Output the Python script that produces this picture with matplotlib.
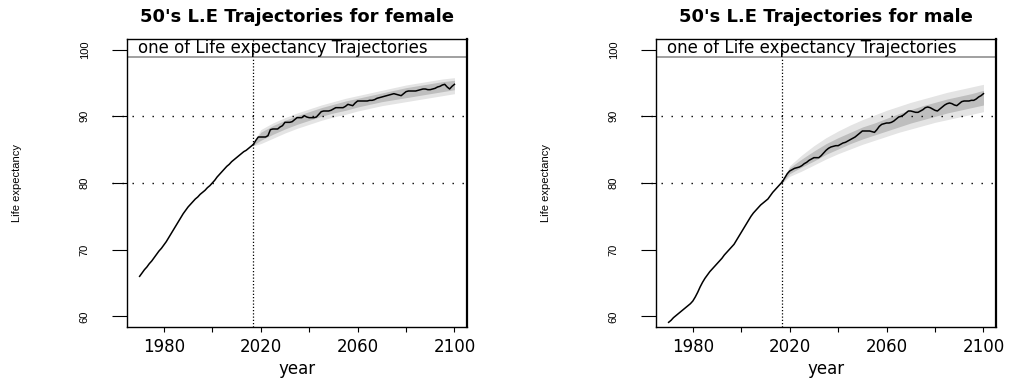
import matplotlib
matplotlib.use("Agg")
import matplotlib.pyplot as plt
import numpy as np

# observed life expectancy, 1970-2017
hist_years = list(range(1970, 2018))
female_hist = [66.0, 66.5, 67.0, 67.4, 67.9, 68.3, 68.8, 69.3, 69.8, 70.2,
               70.7, 71.2, 71.8, 72.4, 73.0, 73.6, 74.2, 74.8, 75.4, 75.9,
               76.4, 76.8, 77.2, 77.6, 77.9, 78.3, 78.6, 78.9, 79.3, 79.6,
               80.0, 80.4, 80.9, 81.3, 81.7, 82.1, 82.5, 82.8, 83.2, 83.5,
               83.8, 84.1, 84.4, 84.7, 84.9, 85.2, 85.5, 85.8]
male_hist = [59.1, 59.4, 59.8, 60.1, 60.4, 60.7, 61.0, 61.3, 61.6, 61.9,
             62.3, 62.9, 63.6, 64.4, 65.1, 65.7, 66.2, 66.7, 67.1, 67.5,
             67.9, 68.3, 68.7, 69.2, 69.6, 70.0, 70.4, 70.8, 71.4, 72.0,
             72.6, 73.2, 73.8, 74.4, 75.0, 75.5, 75.9, 76.3, 76.7, 77.0,
             77.3, 77.6, 78.1, 78.6, 79.0, 79.4, 79.8, 80.2]

# one simulated trajectory, 2017-2100
proj_years = list(range(2017, 2101))
female_proj = [85.8, 86.4, 86.9, 86.9, 86.9, 86.9, 87.1, 88.0, 88.1, 88.1,
               88.1, 88.4, 88.6, 89.1, 89.1, 89.1, 89.2, 89.5, 89.8, 89.8,
               89.8, 90.1, 89.9, 89.8, 89.8, 89.8, 89.9, 90.3, 90.7, 90.8,
               90.8, 90.8, 90.9, 91.1, 91.3, 91.3, 91.3, 91.3, 91.5, 91.8,
               91.7, 91.6, 92.0, 92.3, 92.3, 92.3, 92.3, 92.3, 92.4, 92.4,
               92.5, 92.7, 92.8, 92.9, 93.0, 93.1, 93.2, 93.3, 93.4, 93.3,
               93.2, 93.1, 93.4, 93.7, 93.8, 93.8, 93.8, 93.8, 93.9, 94.0,
               94.1, 94.1, 94.0, 94.0, 94.1, 94.2, 94.4, 94.5, 94.7, 94.8,
               94.4, 94.1, 94.5, 94.8]
male_proj = [80.2, 80.8, 81.4, 81.8, 82.0, 82.2, 82.3, 82.4, 82.6, 82.9,
             83.1, 83.4, 83.6, 83.8, 83.8, 83.8, 84.1, 84.5, 84.9, 85.2,
             85.4, 85.5, 85.6, 85.6, 85.8, 86.0, 86.1, 86.3, 86.5, 86.7,
             86.9, 87.2, 87.5, 87.8, 87.8, 87.8, 87.8, 87.7, 87.6, 88.0,
             88.5, 88.8, 88.9, 89.0, 89.0, 89.1, 89.3, 89.6, 89.9, 90.0,
             90.2, 90.5, 90.8, 90.8, 90.7, 90.6, 90.6, 90.8, 91.0, 91.3,
             91.4, 91.3, 91.1, 90.9, 90.8, 91.1, 91.4, 91.7, 91.9, 92.0,
             91.9, 91.7, 91.6, 91.9, 92.2, 92.3, 92.3, 92.3, 92.4, 92.4,
             92.6, 92.9, 93.1, 93.4]

# spread of the other simulated trajectories
band_years = [2017, 2020, 2025, 2030, 2035, 2040, 2045, 2050, 2055, 2060,
              2065, 2070, 2075, 2080, 2085, 2090, 2095, 2100]
female_outer_hi = [86.0, 88.0, 89.0, 89.8, 90.5, 91.1, 91.7, 92.2, 92.7, 93.1,
                   93.5, 93.9, 94.3, 94.7, 95.0, 95.3, 95.6, 95.8]
female_outer_lo = [85.6, 85.9, 86.7, 87.5, 88.2, 88.8, 89.4, 89.9, 90.3, 90.8,
                   91.2, 91.6, 91.9, 92.2, 92.5, 92.8, 93.1, 93.4]
female_core_hi = [85.9, 87.6, 88.6, 89.4, 90.1, 90.7, 91.3, 91.8, 92.3, 92.7,
                  93.1, 93.5, 93.9, 94.3, 94.6, 94.9, 95.2, 95.4]
female_core_lo = [85.7, 86.4, 87.3, 88.1, 88.8, 89.4, 90.0, 90.5, 90.9, 91.4,
                  91.8, 92.2, 92.5, 92.8, 93.1, 93.4, 93.7, 94.0]
male_outer_hi = [80.4, 82.6, 84.2, 85.6, 86.8, 87.8, 88.7, 89.5, 90.2, 90.9,
                 91.5, 92.1, 92.6, 93.1, 93.6, 94.0, 94.4, 94.8]
male_outer_lo = [80.0, 81.0, 81.8, 82.7, 83.6, 84.4, 85.1, 85.8, 86.4, 87.0,
                 87.6, 88.1, 88.6, 89.1, 89.5, 89.9, 90.3, 90.7]
male_core_hi = [80.3, 82.3, 83.6, 84.8, 85.9, 86.8, 87.6, 88.4, 89.0, 89.7,
                90.4, 91.0, 91.6, 92.1, 92.6, 93.0, 93.4, 93.9]
male_core_lo = [80.1, 81.4, 82.4, 83.3, 84.3, 85.1, 85.9, 86.6, 87.2, 87.8,
                88.4, 89.0, 89.5, 90.0, 90.5, 90.9, 91.3, 91.7]

x_ticks = [1980, 2000, 2020, 2040, 2060, 2080, 2100]
x_labels = ["1980", "", "2020", "", "2060", "", "2100"]
y_ticks = [60, 70, 80, 90, 100]
ref_lines = [80, 90]
base_year = 2017

panels = [
    ("50's L.E Trajectories for female", female_hist, female_proj,
     female_outer_lo, female_outer_hi, female_core_lo, female_core_hi),
    ("50's L.E Trajectories for male", male_hist, male_proj,
     male_outer_lo, male_outer_hi, male_core_lo, male_core_hi),
]

fig = plt.figure(figsize=(10.31, 3.79), dpi=100)
lefts = [0.1232, 0.6363]

for left, (title, hist, proj, olo, ohi, clo, chi) in zip(lefts, panels):
    ax = fig.add_axes([left, 0.1372, 0.3298, 0.7599])
    ax.fill_between(band_years, olo, ohi, color="#e4e4e4", lw=0)
    ax.fill_between(band_years, clo, chi, color="#bebebe", lw=0)
    ax.plot(hist_years, hist, color="black", lw=1.1)
    ax.plot(proj_years, proj, color="black", lw=1.1)

    for v in ref_lines:
        ax.axhline(v, xmin=-0.045, xmax=1, color="black", lw=1.0,
                   ls=(0, (1, 6.2)), clip_on=False)
    ax.axvline(base_year, color="black", lw=0.9, ls=(0, (1, 1.6)))

    ax.set_xlim(1964.8, 2105.2)
    ax.set_ylim(58.4, 101.6)

    # legend strip across the top
    ax.axhline(98.9, color="#a0a0a0", lw=1.4)
    ax.text(0.032, 0.969, "one of Life expectancy Trajectories",
            transform=ax.transAxes, ha="left", va="center",
            fontsize=12, family="DejaVu Sans")

    ax.set_xticks(x_ticks)
    ax.set_xticklabels(x_labels, fontsize=12, family="DejaVu Sans")
    ax.set_yticks(y_ticks)
    ax.set_yticklabels([str(t) for t in y_ticks], rotation=90, va="center",
                       fontsize=8, family="Liberation Sans")
    ax.tick_params(axis="x", length=3.6, width=0.8, pad=4)
    ax.tick_params(axis="y", length=10.8, width=0.8, pad=16)

    ax.set_xlabel("year", fontsize=12, family="DejaVu Sans", labelpad=3)
    ax.set_ylabel("Life expectancy", fontsize=8, family="Liberation Sans")
    ax.yaxis.set_label_coords(-0.309, 0.5)
    ax.set_title(title, fontsize=13, fontweight="bold", family="DejaVu Sans",
                 pad=12)
    for s in ax.spines.values():
        s.set_linewidth(1.0)
    ax.spines["right"].set_linewidth(1.6)

fig.savefig("out.png", dpi=100)
